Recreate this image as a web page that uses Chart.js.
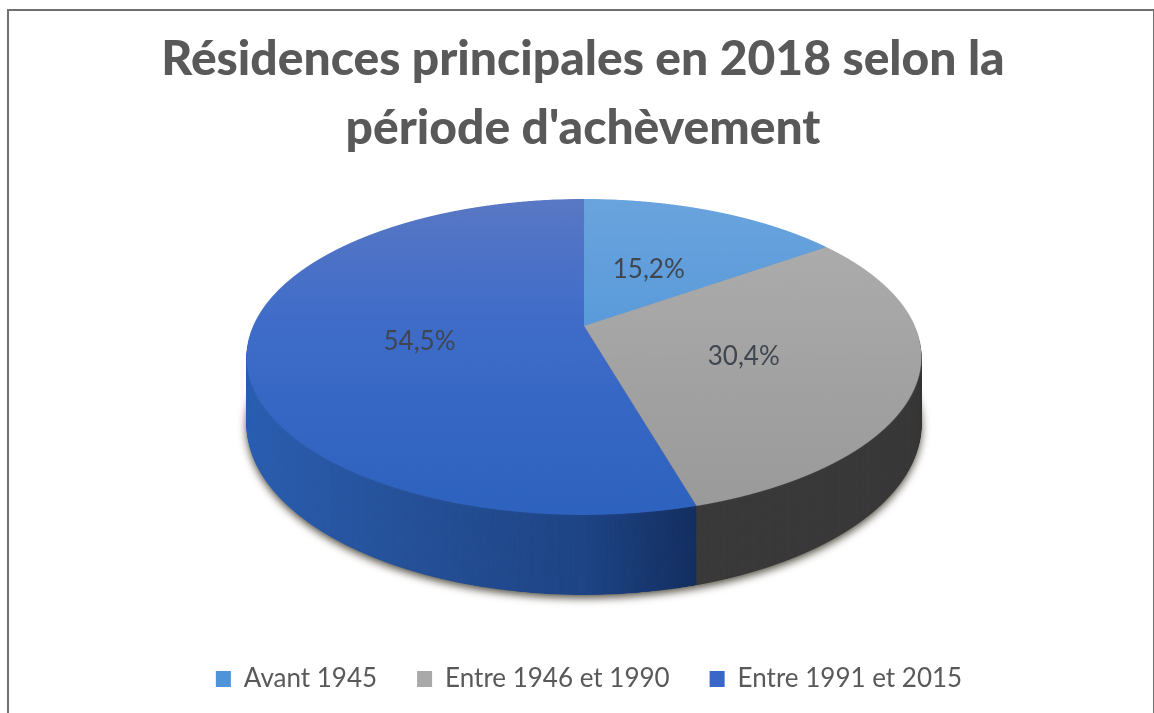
<!DOCTYPE html>
<html lang="fr">
<head>
<meta charset="utf-8">
<title>Résidences principales en 2018</title>
<script src="https://cdn.jsdelivr.net/npm/chart.js@4/dist/chart.umd.min.js"></script>
<style>
  html, body { margin: 0; padding: 0; background: #fff; overflow: hidden; }
  #frame { position: absolute; left: 7px; top: 9px; width: 1144px; height: 720px; border: 2px solid #707070; }
  #c { position: absolute; left: 0; top: 0; }
</style>
</head>
<body>
<div id="frame"></div>
<canvas id="c" width="1154" height="713"></canvas>
<script>
// Data
const titleLines = ['Résidences principales en 2018 selon la', "période d'achèvement"];
const periods = ['Avant 1945', 'Entre 1946 et 1990', 'Entre 1991 et 2015'];
const shares = [15.2, 30.4, 54.5];
const swatches = ['#4f93d9', '#a9a9a9', '#3867c8'];

// Perspective of the tilted disc: a flat pie is warped row by row
const CX = 584, PERSP = 0.196, Y_APEX = 326, Y_SLOPE = 88, X_SCALE = 331;
const Y_TOP = 199, Y_BOTTOM = 515;
const WALL = 67, WALL_SLOPE = 0.082, SS = 2;
const SRC = 1400, SRC_R = 680;
const LEGEND_SHIFT = 6;

const projectY = z => (Y_SLOPE * z + Y_APEX) / (1 - PERSP * z);
const projectX = (x, z) => CX + X_SCALE * x / (1 - PERSP * z);
const unprojectZ = y => (y - Y_APEX) / (Y_SLOPE + PERSP * y);

function makeCanvas(w, h) {
  const cv = document.createElement('canvas');
  cv.width = w; cv.height = h;
  return cv;
}

// draws the library's arcs flat, in the given fills
function flatPie(arcs, fills) {
  const cv = makeCanvas(SRC, SRC);
  const g = cv.getContext('2d');
  const k = SRC_R / arcs[0].outerRadius;
  g.translate(SRC / 2, SRC / 2);
  g.scale(k, k);
  g.translate(-arcs[0].x, -arcs[0].y);
  arcs.forEach((arc, i) => {
    const saved = arc.options;
    const o = Object.create(saved);
    o.backgroundColor = typeof fills[i] === 'function' ? fills[i](g, arc, k) : fills[i];
    arc.options = o;
    arc.draw(g);
    arc.options = saved;
  });
  return cv;
}

function warp(src, w, h) {
  const cv = makeCanvas(w * SS, h * SS);
  const g = cv.getContext('2d');
  g.imageSmoothingQuality = 'high';
  for (let y = Y_TOP - 2; y < Y_BOTTOM + 2; y += 1 / SS) {
    const z = unprojectZ(y), z2 = unprojectZ(y + 1 / SS);
    const s = X_SCALE / (1 - PERSP * z) / SRC_R * SS;
    const sy = SRC / 2 + z * SRC_R;
    const sh = Math.max((z2 - z) * SRC_R, 1);
    if (sy < 0 || sy + sh > SRC) continue;
    g.drawImage(src, 0, sy, SRC, sh, CX * SS - SRC / 2 * s, y * SS, SRC * s, 1);
  }
  return cv;
}

function vGrad(stops) {
  return (g, arc) => {
    const r = arc.outerRadius;
    const lg = g.createLinearGradient(0, arc.y - r, 0, arc.y + r);
    stops.forEach((c, i) => lg.addColorStop(i / (stops.length - 1), c));
    return lg;
  };
}

function hGrad(stops) {
  return (g, arc) => {
    const r = arc.outerRadius;
    const lg = g.createLinearGradient(arc.x - r, 0, arc.x + r, 0);
    stops.forEach(s => lg.addColorStop(s[0], s[1]));
    return lg;
  };
}

const topFills = [
  vGrad(['#6aa4de', '#5b9bda', '#4f90d8']),
  vGrad(['#b0b0b0', '#a6a6a6', '#9a9a9a']),
  vGrad(['#5a78c4', '#3f6cc9', '#2e62bf'])
];
const wallFills = [
  '#2f5f96',
  '#3b3b3b',
  hGrad([[0, '#2e62b6'], [0.25, '#28549c'], [0.5, '#1f4585'], [0.66, '#132c5c'], [1, '#0f2450']])
];

const pie3d = {
  id: 'pie3d',
  afterLayout(chart) {
    // the legend is not quite centred in the reference
    chart.legend.left += LEGEND_SHIFT;
    chart.legend.right += LEGEND_SHIFT;
  },
  beforeDatasetsDraw(chart) {
    const arcs = chart.getDatasetMeta(0).data;
    const ctx = chart.ctx;
    const w = chart.width, h = chart.height;
    const wall = warp(flatPie(arcs, wallFills), w, h);
    const top = warp(flatPie(arcs, topFills), w, h);

    // side wall: the rim stacked downwards, deepest layer first
    for (let t = 1; t >= 0.02; t -= 1 / 160) {
      const off = t * (WALL - (Y_BOTTOM + Y_TOP) / 2 * WALL_SLOPE);
      ctx.save();
      if (t === 1) {
        ctx.shadowColor = 'rgba(50,45,30,0.85)';
        ctx.shadowBlur = 9;
        ctx.shadowOffsetY = 3;
      }
      ctx.drawImage(wall, 0, off, w, h * (1 + t * WALL_SLOPE));
      ctx.restore();
    }
    ctx.drawImage(top, 0, 0, w, h);

    // percentage labels sit halfway along each slice's middle
    ctx.save();
    ctx.font = '26px Lato';
    ctx.fillStyle = '#3f4650';
    ctx.textAlign = 'center';
    ctx.textBaseline = 'middle';
    arcs.forEach((arc, i) => {
      const mid = (arc.startAngle + arc.endAngle) / 2;
      const r = i === 0 ? 0.46 : 0.495;
      const x = Math.cos(mid) * r, z = Math.sin(mid) * r;
      ctx.fillText(shares[i].toFixed(1).replace('.', ',') + '%', projectX(x, z), projectY(z) + (i === 0 ? 1 : 5));
    });
    ctx.restore();
    return false;
  }
};

new Chart(document.getElementById('c'), {
  type: 'pie',
  plugins: [pie3d],
  data: {
    labels: periods,
    datasets: [{ data: shares, backgroundColor: swatches, borderWidth: 0 }]
  },
  options: {
    responsive: false,
    animation: false,
    layout: { padding: { left: 12, bottom: 11 } },
    plugins: {
      tooltip: { enabled: false },
      title: {
        display: true,
        text: titleLines,
        color: '#595959',
        font: { family: 'Lato', size: 48, weight: '900', lineHeight: 1.44 },
        padding: { top: 25, bottom: 10 }
      },
      legend: {
        position: 'bottom',
        labels: {
          color: '#595959',
          font: { family: 'Lato', size: 26 },
          boxWidth: 15,
          boxHeight: 16,
          padding: 40
        }
      }
    }
  }
});
</script>
</body>
</html>
